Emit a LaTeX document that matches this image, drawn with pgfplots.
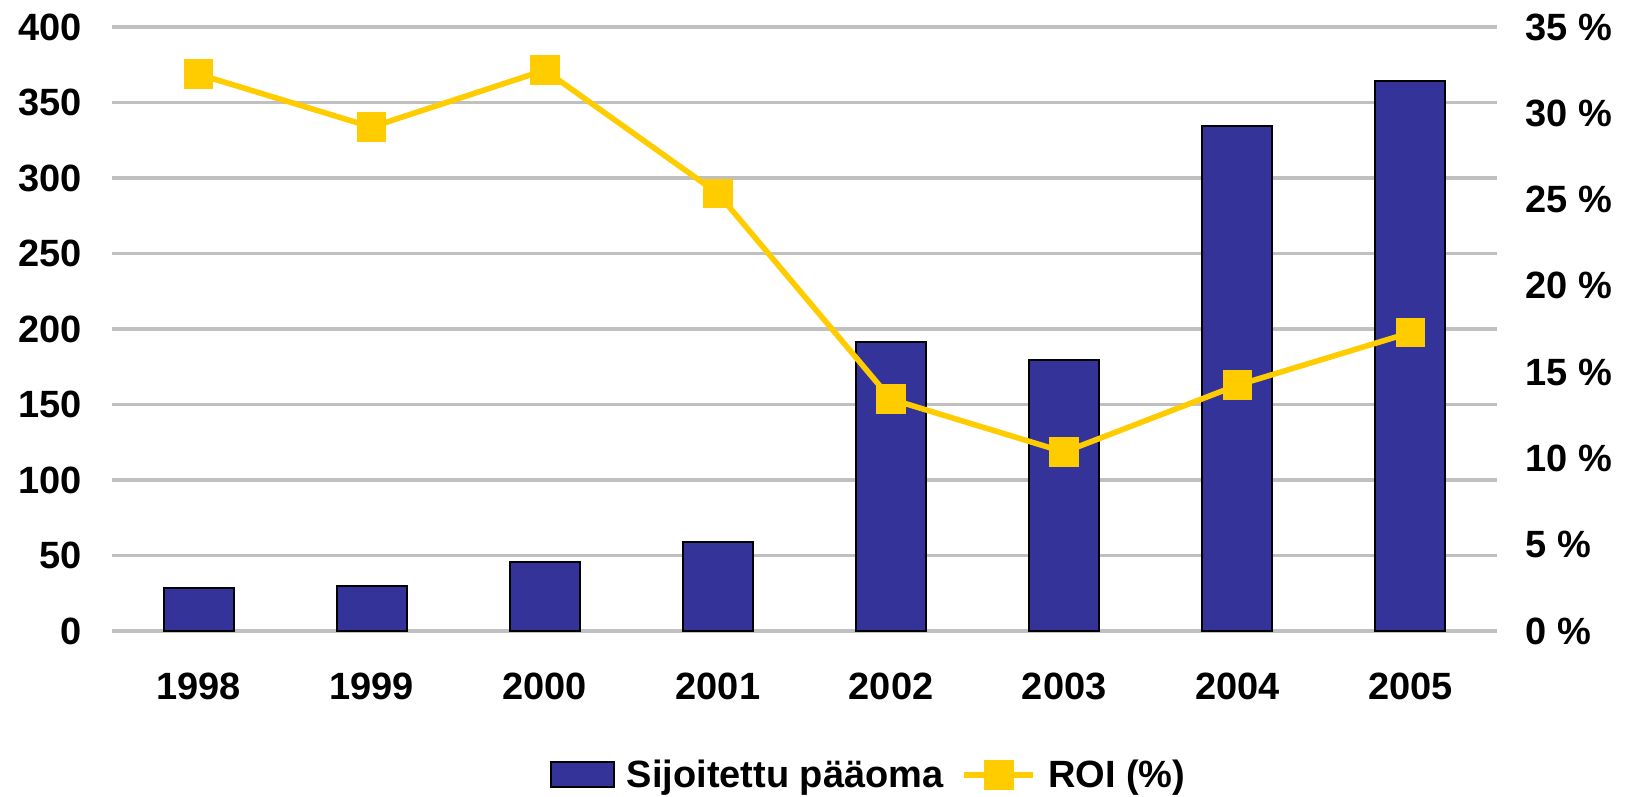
\documentclass[border=0pt]{standalone}
\usepackage{pgfplots}
\pgfplotsset{compat=1.18}
\usepackage{fontspec}
\setmainfont{Liberation Sans}
\definecolor{barblue}{RGB}{51,51,153}
\definecolor{roiyellow}{RGB}{255,204,0}
\definecolor{gridgray}{RGB}{192,192,192}
\newcommand{\chartfont}{\bfseries\fontsize{19}{23}\selectfont}
\pgfplotsset{
  roilegend/.style={legend image code/.code={\draw[mark repeat=2, mark phase=2, ##1] plot coordinates {(0pt,0pt) (17.25pt,0pt) (34.5pt,0pt)};}},
  barlegend/.style={legend image code/.code={\draw[fill=barblue, draw=black, line width=1pt] (0pt,-6.25pt) rectangle (31.5pt,6.25pt);}},
}
\begin{document}
\begin{tikzpicture}
\pgfplotsset{
  every axis/.append style={font=\chartfont},
  /pgf/number format/assume math mode=true,
}
\begin{axis}[
  at={(0,0)}, anchor=south west,
  scale only axis, width=692.5pt, height=302pt,
  xmin=-0.5, xmax=7.5, ymin=0, ymax=400,
  axis line style={draw=none}, major tick length=0pt,
  xtick={0,...,7},
  xticklabels={1998,1999,2000,2001,2002,2003,2004,2005},
  xticklabel style={inner sep=0pt, anchor=north, yshift=-21pt},
  ytick={0,50,...,400},
  yticklabel style={inner sep=0pt, anchor=east, xshift=-15pt},
  yticklabel pos=left,
  ymajorgrids, grid style={gridgray, line width=1.6pt},
  clip=false,
]
\addplot[ybar, bar width=35pt, fill=barblue, draw=black, line width=1pt]
  coordinates {(0,28.7) (1,29.8) (2,45.7) (3,59.2) (4,191.4) (5,179.5) (6,334.4) (7,364.2)};
\end{axis}
\begin{axis}[
  at={(0,0)}, anchor=south west,
  scale only axis, width=692.5pt, height=302pt,
  xmin=-0.5, xmax=7.5, ymin=0, ymax=35,
  axis line style={draw=none}, major tick length=0pt,
  xtick=\empty,
  ytick={0,5,...,35},
  yticklabels={0 \%,5 \%,10 \%,15 \%,20 \%,25 \%,30 \%,35 \%},
  yticklabel pos=right,
  yticklabel style={inner sep=0pt, anchor=west, xshift=14pt},
  clip=false,
  legend columns=-1,
  legend style={at={(axis description cs:0.547,-0.238)}, anchor=center,
    draw=none, font=\chartfont,
    /tikz/every odd column/.append style={column sep=4pt},
    /tikz/every even column/.append style={column sep=7pt}},
]
\addlegendimage{barlegend}
\addlegendentry{Sijoitettu pääoma}
\addplot[roiyellow, line width=2.8pt, mark=square*, mark size=6pt,
  mark options={draw=none, fill=roiyellow}, roilegend]
  coordinates {(0,32.26) (1,29.2) (2,32.5) (3,25.35) (4,13.43) (5,10.37) (6,14.24) (7,17.29)};
\addlegendentry{ROI (\%)}
\end{axis}
\pgfresetboundingbox
\path[use as bounding box] (-56pt,-83pt) rectangle (759pt,315.5pt);
\end{tikzpicture}
\end{document}
